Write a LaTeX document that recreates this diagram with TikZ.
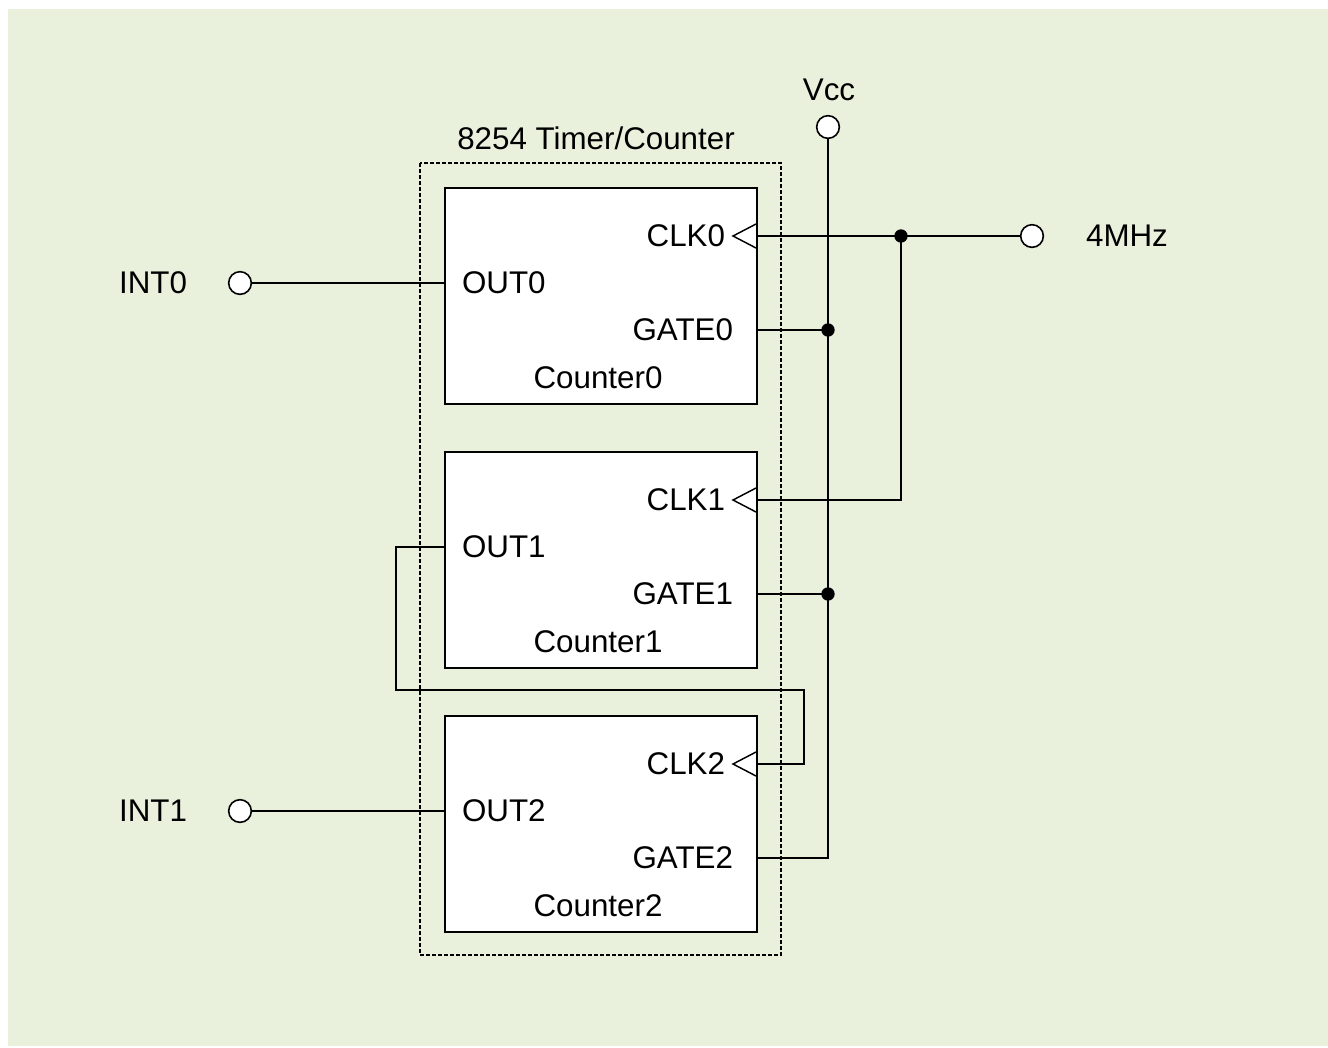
\documentclass[tikz,border=0pt]{standalone}
\usepackage{fontspec}
\setmainfont{Liberation Sans}
\usetikzlibrary{positioning}
\definecolor{bggreen}{RGB}{233,240,220}

\begin{document}
\begin{tikzpicture}[x=0.75pt, y=-0.75pt, line width=1.5pt,
  every node/.style={font=\fontsize{23.5}{28}\selectfont, inner sep=0pt},
  ctrbox/.style={draw, fill=white, minimum width=234pt, minimum height=162pt},
  term/.style={draw, circle, fill=white, line width=1.2pt, minimum size=17pt},
  junc/.style={circle, fill=black, minimum size=10pt}]
  % Background
  \useasboundingbox (0,0) rectangle (1328,1047);
  \fill[white] (0,0) rectangle (1328,1047);
  \fill[bggreen] (8,9) rectangle (1328,1046);

  % Chip outline
  \draw[line width=1.1pt, dash pattern=on 3pt off 1.5pt] (420,163) rectangle (781,955);
  \node (chip) at (596,138) {8254 Timer/Counter};

  % Terminals
  \node[term] (vcc) at (828,127) {};
  \node (vcclbl) at (829,90) {Vcc};
  \node[term] (osc) at (1032,236) {};
  \node (osclbl) at (1127,236) {4MHz};
  \node[term] (int0) at (240,283) {};
  \node (int0lbl) at (153,283) {INT0};
  \node[term] (int1) at (240,811) {};
  \node (int1lbl) at (153,811) {INT1};

  % Counters
  \foreach \i/\t in {0/187, 1/451, 2/715} {
    \node[ctrbox, anchor=north west] (ctr\i) at (444,\t) {};
    \coordinate (clk\i) at (756,\t+49);
    \coordinate (out\i) at (444,\t+96);
    \coordinate (gate\i) at (756,\t+143);
    \node[anchor=east] (clklbl\i) at (726,\t+49) {CLK\i};
    \node[anchor=west] (outlbl\i) at (461,\t+96) {OUT\i};
    \node[anchor=east] (gatelbl\i) at (734,\t+143) {GATE\i};
    \node (ctrlbl\i) at (598,\t+191) {Counter\i};
    \draw[line width=1.1pt] (clk\i) ++(0,-12) -- ++(-23,12) -- ++(23,12);
  }

  % Clock wiring
  \coordinate (split) at (901,236);
  \draw (clk0) -- (osc);
  \draw (split) |- (clk1);
  \node[junc] (dot0) at (split) {};

  % Gate wiring
  \draw (vcc) |- (gate2);
  \draw (gate0) -- (gate0 -| vcc) node[junc] (dot1) {};
  \draw (gate1) -- (gate1 -| vcc) node[junc] (dot2) {};

  % Outputs
  \coordinate (loop) at (804,690);
  \draw (out1) -- ++(-48,0) |- (loop) |- (clk2);
  \draw (int0) -- (out0);
  \draw (int1) -- (out2);
\end{tikzpicture}
\end{document}
